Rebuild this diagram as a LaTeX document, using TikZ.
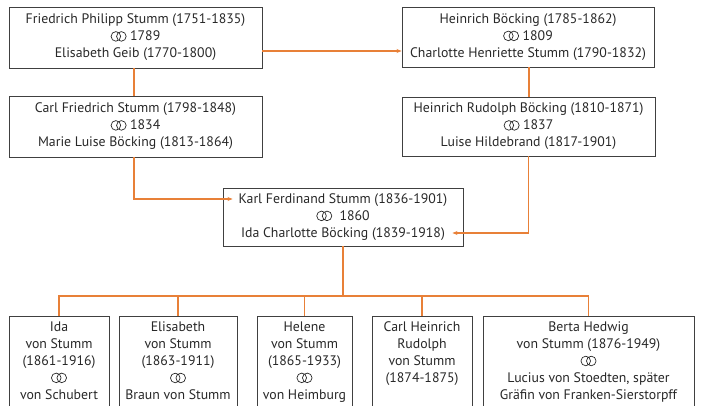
\documentclass[tikz,border=0pt]{standalone}
\usepackage{fontspec}
\setmainfont{PT Sans}
\usepackage{xcolor}
\usepackage{tikz}
\usetikzlibrary{shapes,arrows,positioning,calc,arrows.meta}

\definecolor{linkorange}{RGB}{232,128,56}
\definecolor{boxgray}{RGB}{64,64,64}
\definecolor{textgray}{RGB}{40,40,40}
% wedding rings
\newcommand{\wed}{\tikz[x=1pt,y=1pt,baseline=0.5pt]{\draw[textgray, line width=0.7pt] (5,5) circle (4.8) (10.5,5) circle (4.8);}}

\begin{document}
\begin{tikzpicture}[x=1pt,y=-1pt,
    famebox/.style={draw=boxgray, line width=0.9pt, align=center, text=textgray,
        font=\fontsize{13.8}{17}\selectfont, inner sep=0pt},
    kidbox/.style={draw=boxgray, line width=0.9pt, anchor=north, minimum height=120pt},
    kidtext/.style={anchor=north, align=center, text=textgray,
        font=\fontsize{13.8}{17}\selectfont, inner xsep=2pt, inner ysep=5.5pt},
    link/.style={draw=linkorange, line width=1.2pt},
    linkarrow/.style={link, -{Stealth[length=5pt,width=4pt]}}]
        \useasboundingbox (0,0) rectangle (701,405);
        \clip (0,0) rectangle (701,405);

        % parents and grandparents
        \node[famebox, minimum width=253pt, minimum height=61pt] (fps) at (135.5,37.5)
            {Friedrich Philipp Stumm (1751-1835)\\\wed{} 1789\\Elisabeth Geib (1770-1800)};
        \node[famebox, minimum width=252pt, minimum height=60pt] (hb) at (528,37)
            {Heinrich Böcking (1785-1862)\\\wed{} 1809\\Charlotte Henriette Stumm (1790-1832)};
        \node[famebox, minimum width=253pt, minimum height=61pt] (cfs) at (135.5,126.5)
            {Carl Friedrich Stumm (1798-1848)\\\wed{} 1834\\Marie Luise Böcking (1813-1864)};
        \node[famebox, minimum width=253pt, minimum height=59pt] (hrb) at (528.5,126.5)
            {Heinrich Rudolph Böcking (1810-1871)\\\wed{} 1837\\Luise Hildebrand (1817-1901)};
        \node[famebox, minimum width=240pt, minimum height=58pt] (kfs) at (343,217)
            {Karl Ferdinand Stumm (1836-1901)\\\wed{}\ \ 1860\\Ida Charlotte Böcking (1839-1918)};

        % children
        \coordinate (bus) at (0,296);
        \node[kidbox, minimum width=100pt, label={[kidtext]north:{Ida\\von Stumm\\(1861-1916)\\\wed\\von Schubert}}] (ida) at (59,316) {};
        \node[kidbox, minimum width=118pt, label={[kidtext]north:{Elisabeth\\von Stumm\\(1863-1911)\\\wed\\Braun von Stumm}}] (elis) at (178,316) {};
        \node[kidbox, minimum width=95pt, label={[kidtext]north:{Helene\\von Stumm\\(1865-1933)\\\wed\\von Heimburg}}] (hel) at (304.5,316) {};
        \node[kidbox, minimum width=100pt, label={[kidtext]north:{Carl Heinrich\\Rudolph\\von Stumm\\(1874-1875)}}] (chr) at (422,316) {};
        \node[kidbox, minimum width=211pt, label={[kidtext]north:{Berta Hedwig\\von Stumm (1876-1949)\\\wed\\Lucius von Stoedten, später\\Gräfin von Franken-Sierstorpff}}] (bh) at (588.5,316) {};

        % connectors
        \draw[link] ([xshift=-1.5pt]fps.south) -- ([xshift=-1.5pt]cfs.north);
        \draw[link] ([xshift=1pt]hb.south) -- ([xshift=1pt]hb.south |- hrb.north);
        \draw[linkarrow] ([yshift=-13.5pt]fps.east) -- ([yshift=-13.5pt]fps.east -| hb.west);
        \draw[linkarrow] ([xshift=-1.5pt]cfs.south) |- ([xshift=10pt,yshift=18pt]kfs.west);
        \draw[linkarrow] (hrb.south) |- ([xshift=-11pt,yshift=-16pt]kfs.east);
        \foreach \kid in {ida,elis,hel,chr,bh}
            \draw[link] (kfs.south) -- (kfs.south |- bus) -| (\kid.north);
    \end{tikzpicture}
\end{document}
